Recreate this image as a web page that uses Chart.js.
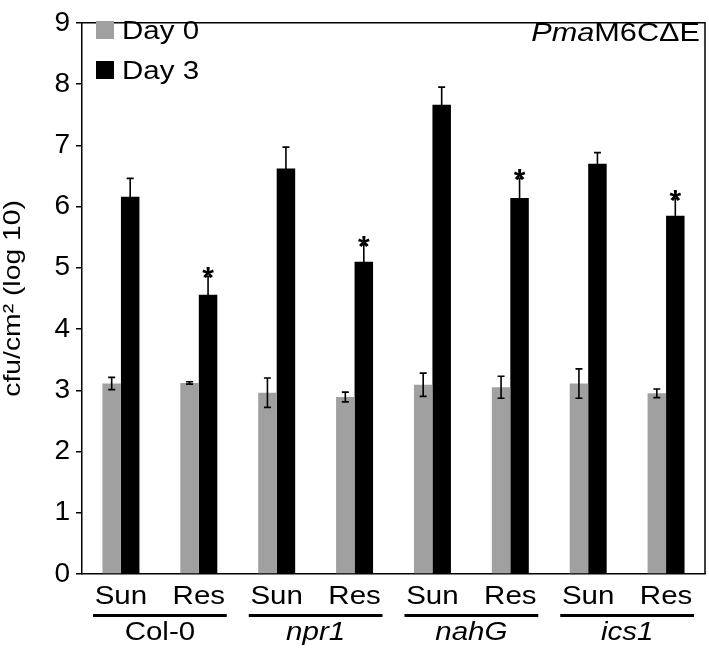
<!DOCTYPE html>
<html>
<head>
<meta charset="utf-8">
<script src="https://cdn.jsdelivr.net/npm/chart.js@4.4.1/dist/chart.umd.min.js"></script>
<style>
  html, body { margin: 0; padding: 0; background: #fff; }
  #wrap { width: 709px; height: 651px; }
</style>
</head>
<body>
<div id="wrap"><canvas id="chart" width="709" height="651"></canvas></div>
<script>
// Data
const categories = ['Sun', 'Res', 'Sun', 'Res', 'Sun', 'Res', 'Sun', 'Res'];
const genotypes = ['Col-0', 'npr1', 'nahG', 'ics1'];
const genotypeItalic = [false, true, true, true];
const day0 = [3.11, 3.12, 2.96, 2.89, 3.09, 3.05, 3.11, 2.95];
const day0Err = [0.10, 0.02, 0.24, 0.08, 0.19, 0.18, 0.24, 0.07];
const day3 = [6.16, 4.56, 6.62, 5.10, 7.66, 6.14, 6.70, 5.85];
const day3Err = [0.30, 0.30, 0.35, 0.28, 0.29, 0.32, 0.18, 0.28];
const significant = [false, true, false, true, false, true, false, true];
const yTicks = [0, 1, 2, 3, 4, 5, 6, 7, 8, 9];

const FONT = "'Liberation Sans', Arial, sans-serif";
const STRETCH = 1.18; // the figure's lettering is wider than plain Arial

function wideText(ctx, text, x, y, align, rotate) {
    ctx.save();
    ctx.translate(x, y);
    if (rotate) ctx.rotate(-Math.PI / 2);
    ctx.scale(STRETCH, 1);
    ctx.textAlign = align;
    ctx.fillText(text, 0, 0);
    ctx.restore();
}

// error bars, asterisks, box, legend, title and axis lettering
const decorations = {
    id: 'decorations',
    afterDatasetsDraw(chart) {
        const ctx = chart.ctx;
        const y = chart.scales.y;
        const x = chart.scales.x;
        const area = chart.chartArea;
        const errs = [day0Err, day3Err];

        ctx.save();
        ctx.strokeStyle = '#000';
        ctx.lineWidth = 1.6;
        chart.data.datasets.forEach((ds, i) => {
            chart.getDatasetMeta(i).data.forEach((bar, j) => {
                const v = ds.data[j], e = errs[i][j];
                const top = y.getPixelForValue(v + e);
                const bot = y.getPixelForValue(v - e);
                ctx.beginPath();
                ctx.moveTo(bar.x, top); ctx.lineTo(bar.x, bot);
                ctx.moveTo(bar.x - 3.5, top); ctx.lineTo(bar.x + 3.5, top);
                ctx.moveTo(bar.x - 3.5, bot); ctx.lineTo(bar.x + 3.5, bot);
                ctx.stroke();
                if (i === 1 && significant[j]) {
                    ctx.fillStyle = '#000';
                    ctx.font = 'bold 30px ' + FONT;
                    ctx.textAlign = 'center';
                    ctx.textBaseline = 'alphabetic';
                    ctx.fillText('*', bar.x, top + 11);
                }
            });
        });

        // top and right frame
        ctx.lineWidth = 1.5;
        ctx.beginPath();
        ctx.moveTo(area.left, area.top);
        ctx.lineTo(area.right, area.top);
        ctx.lineTo(area.right, area.bottom);
        ctx.stroke();

        ctx.fillStyle = '#000';
        ctx.textBaseline = 'alphabetic';

        // legend
        ctx.font = '25px ' + FONT;
        chart.data.datasets.forEach((ds, i) => {
            const ty = 39 + i * 40;
            ctx.fillStyle = ds.backgroundColor;
            ctx.fillRect(96, ty - 18, 18, 18);
            ctx.fillStyle = '#000';
            wideText(ctx, ds.label, 122, ty, 'left');
        });

        // title, right aligned
        ctx.font = '26px ' + FONT;
        const rest = 'M6C\u0394E';
        const restW = ctx.measureText(rest).width * STRETCH;
        wideText(ctx, rest, 700, 41, 'right');
        ctx.font = 'italic 26px ' + FONT;
        wideText(ctx, 'Pma', 700 - restW, 41, 'right');

        // y axis title
        ctx.font = '24px ' + FONT;
        ctx.textBaseline = 'middle';
        wideText(ctx, 'cfu/cm\u00b2 (log 10)', 13, (area.top + area.bottom) / 2, 'center', true);

        // category labels
        ctx.font = '25px ' + FONT;
        chart.data.labels.forEach((lab, j) => {
            wideText(ctx, lab, x.getPixelForValue(j), 597, 'center');
        });

        // genotype underlines and names
        genotypes.forEach((g, k) => {
            const a = x.getPixelForValue(2 * k);
            const b = x.getPixelForValue(2 * k + 1);
            const half = (b - a) / 2;
            ctx.fillRect(a - half + 11, 614, (b - a) + 2 * half - 22, 3);
            ctx.font = (genotypeItalic[k] ? 'italic ' : '') + '25px ' + FONT;
            wideText(ctx, g, (a + b) / 2, 633, 'center');
        });
        ctx.restore();
    }
};

new Chart(document.getElementById('chart').getContext('2d'), {
    type: 'bar',
    data: {
        labels: categories,
        datasets: [{
            label: 'Day 0',
            data: day0,
            backgroundColor: '#a0a0a0',
            borderWidth: 0
        }, {
            label: 'Day 3',
            data: day3,
            backgroundColor: '#000000',
            borderWidth: 0
        }]
    },
    options: {
        responsive: false,
        animation: false,
        layout: { padding: { top: 10, right: 4, left: 0, bottom: 0 } },
        datasets: { bar: { categoryPercentage: 0.475, barPercentage: 1 } },
        plugins: { legend: { display: false }, tooltip: { enabled: false } },
        scales: {
            x: {
                afterFit(scale) { scale.height = 77; },
                grid: { display: false, drawTicks: false },
                border: { display: true, color: '#000', width: 1.5 },
                ticks: { display: false }
            },
            y: {
                min: 0,
                max: 9,
                afterFit(scale) { scale.width = 82; },
                afterBuildTicks(scale) { scale.ticks = yTicks.map(v => ({ value: v })); },
                grid: { drawOnChartArea: false, drawTicks: true, tickLength: 6, color: '#000', lineWidth: 1.5 },
                border: { display: true, color: '#000', width: 1.5 },
                ticks: { color: '#000', font: { family: FONT, size: 28 }, padding: 6 }
            }
        }
    },
    plugins: [decorations]
});
</script>
</body>
</html>
